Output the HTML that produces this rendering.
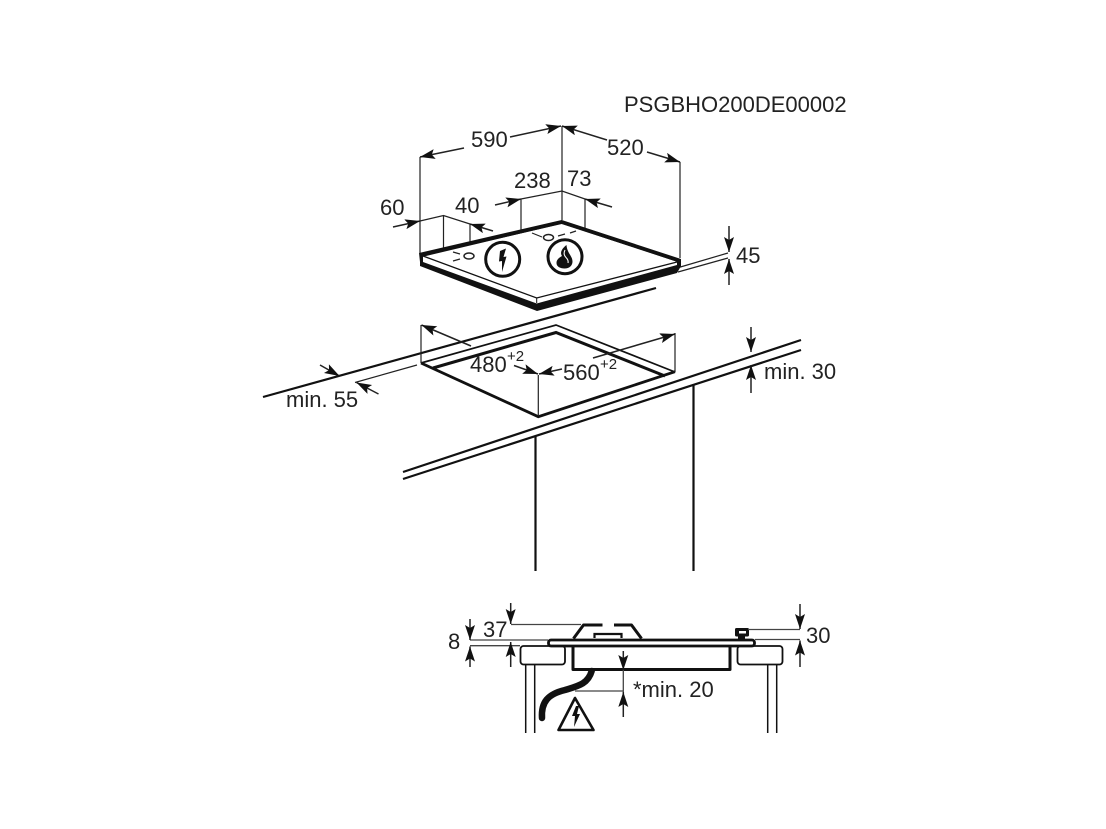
<!DOCTYPE html>
<html><head><meta charset="utf-8"><style>
html,body{margin:0;padding:0;background:#fff}
svg{display:block}
text{font-family:"Liberation Sans",sans-serif;font-size:22px;fill:#222}
.t{stroke:#222;stroke-width:1.2;fill:none}
.g{stroke:#444;stroke-width:1.3;fill:none}
.a{stroke:#222;stroke-width:1.5;fill:none;marker-end:url(#ar)}
.k{stroke:#111;stroke-width:3;fill:none;stroke-linejoin:round}
.m{stroke:#111;stroke-width:2.2;fill:none}
</style></head><body>
<svg width="1106" height="829" viewBox="0 0 1106 829" xmlns="http://www.w3.org/2000/svg">
<defs><marker id="ar" markerUnits="userSpaceOnUse" markerWidth="16" markerHeight="12" refX="15" refY="5" orient="auto"><path d="M0 0L15 5L0 10L3 5Z" fill="#111"/></marker></defs>

<text x="624" y="112">PSGBHO200DE00002</text>
<text x="471" y="147">590</text><text x="607" y="155">520</text>
<text x="514" y="188">238</text><text x="567" y="186">73</text>
<text x="380" y="215">60</text><text x="455" y="213">40</text>
<text x="736" y="263">45</text>
<text x="470" y="372">480</text><text x="507" y="361" style="font-size:15px">+2</text>
<text x="563" y="380">560</text><text x="600" y="369" style="font-size:15px">+2</text>
<text x="286" y="407">min. 55</text><text x="764" y="379">min. 30</text>
<text x="448" y="649">8</text><text x="483" y="637">37</text><text x="806" y="643">30</text>
<text x="633" y="697">*min. 20</text>

<!-- worktop -->
<path d="M263 397L656 288" stroke="#111" stroke-width="2.200" fill="none"/>
<path d="M403 472L801 340M403 479L801 350" class="m"/>
<path d="M535.500 436V571M693.500 384V571" class="m"/>

<!-- dimension lines top -->
<path class="a" d="M464 148L420 157"/><path class="a" d="M510 137L561 126"/>
<path class="a" d="M607 140L562 126"/><path class="a" d="M647 152L680 162"/>
<path class="t" d="M420 157V253M562 126V220M680 162V258"/>
<path class="a" d="M495 205L521 199"/><path class="t" d="M521 199L562 191L585 199M521 199V230M585 199V228"/>
<path class="a" d="M612 207L585 199"/>
<path class="a" d="M393 227L420 221"/><path class="t" d="M420 221L443.500 215.500L470 224M443.500 215V249M470 224V251"/>
<path class="a" d="M493 231L470 224"/>
<path class="a" d="M729 226V252"/><path class="a" d="M729 285V259"/>
<path class="t" d="M677 268L728 253M678 272L728 258"/>

<!-- hob -->
<path d="M419 253L561.700 220L681 259V266L677 273L537 311L420 266V262Z" fill="#111"/>
<path d="M423 256L561.700 224L677 261.700V265L536.700 303.500L423 262Z" fill="#fff"/>
<path d="M423 256L536.700 298L677 262" fill="none" stroke="#111" stroke-width="1.300"/>
<path d="M536.700 298V303" stroke="#111" stroke-width="1"/>
<path d="M423 255L561.700 222L677 260" fill="none" stroke="#111" stroke-width="3.300"/>
<ellipse cx="469" cy="256" rx="5" ry="3" fill="#fff" stroke="#222" stroke-width="1.500"/>
<ellipse cx="548.500" cy="237.500" rx="5" ry="3" fill="#fff" stroke="#222" stroke-width="1.500"/>
<path class="t" d="M453 252L460 254M453 261L460 259M532 233L542 237M558 236L565 234M570 233L576 231"/>
<circle cx="502.700" cy="259.300" r="17" fill="#fff" stroke="#111" stroke-width="3"/>
<path d="M500 251L506 248.500L503.500 257L506.500 256.500L502 272L502 261L499 261.500Z" fill="#111"/>
<circle cx="565" cy="256.700" r="17" fill="#fff" stroke="#111" stroke-width="3"/>
<path d="M566.500 245C560 250 560.500 254 562 256C558.500 258 556.500 260 556.500 263C556.500 266.500 560 268.500 564.500 268.500C569.500 268.500 572.500 265.500 572.500 261.500C572.500 256 567 253 566.500 245Z" fill="#111"/>
<path d="M565 250C563.500 253 564 255.500 566 257.500C568 259.500 568.500 261 568 263" fill="none" stroke="#fff" stroke-width="1.100"/>

<!-- cutout -->
<path d="M421 363L556 325L675 372" fill="none" stroke="#111" stroke-width="1.700"/>
<path d="M433 368L556 332.500L665 376" fill="none" stroke="#111" stroke-width="3"/>
<path d="M421 363L538.300 416.700L675 371.700" fill="none" stroke="#111" stroke-width="2.800"/>
<path class="t" d="M421 325V363M675 333V372M538.300 375V416"/>
<path class="a" d="M471 346L421.500 325"/><path class="a" d="M593 358L675 334"/>
<path class="a" d="M514 365.500L538 374"/><path class="a" d="M562 369L539 374"/>
<path class="t" d="M355 382.500L417 365"/>
<path class="a" d="M378.500 394L356.500 382.500"/><path class="a" d="M320 365L339.500 376"/>
<path class="a" d="M751 327V352"/><path class="a" d="M751 393V365"/>

<!-- section -->
<rect x="520.500" y="646" width="44.500" height="18.500" rx="3" fill="#fff" stroke="#111" stroke-width="1.800"/>
<rect x="737.500" y="646" width="45" height="18.500" rx="3" fill="#fff" stroke="#111" stroke-width="1.800"/>
<path d="M525.700 664V733M534.700 664V733M767.700 664V733M776.700 664V733" fill="none" stroke="#111" stroke-width="1.500"/>
<path d="M573 646V669.500H730V646" fill="#fff" stroke="#111" stroke-width="3" stroke-linejoin="round"/>
<rect x="548.500" y="640" width="206" height="6" rx="2.500" fill="#fff" stroke="#111" stroke-width="2.800"/>
<path class="k" stroke-width="2.500" d="M573.500 638.500L583.500 625H602.500M614 625H631.500L641.500 638.500" />
<path class="m" stroke-width="2.500" d="M594.500 638V634H621.500V638"/>
<rect x="735" y="628" width="14" height="8.500" rx="1.500" fill="#111"/>
<rect x="739" y="631" width="7" height="2.500" fill="#fff"/>
<rect x="738" y="636" width="7" height="3.500" fill="#111"/>
<path d="M591.700 671C588 684 578 686 565 690C548 694 541 702 542 718" fill="none" stroke="#111" stroke-width="6.500" stroke-linecap="round"/>
<path d="M575 698L558.500 730H593.500Z" fill="#fff" stroke="#111" stroke-width="2.600" stroke-linejoin="round"/>
<path d="M576 706L572 716L575 716L574 727L580 714L577 714L579 706Z" fill="#111"/>

<path class="g" d="M511 624.500H581M470 640H548M470 645.700H520M748 629.500H800M755 639.500H800M623.300 670V692M575 691H623"/>
<path class="a" d="M510.700 603V624"/><path class="a" d="M510.700 667V642"/>
<path class="a" d="M470 619V640"/><path class="a" d="M470 667V646.500"/>
<path class="a" d="M800 604V629"/><path class="a" d="M800 667V640.500"/>
<path class="a" d="M623.300 651V670"/><path class="a" d="M623.300 717V692"/>
</svg>
</body></html>
